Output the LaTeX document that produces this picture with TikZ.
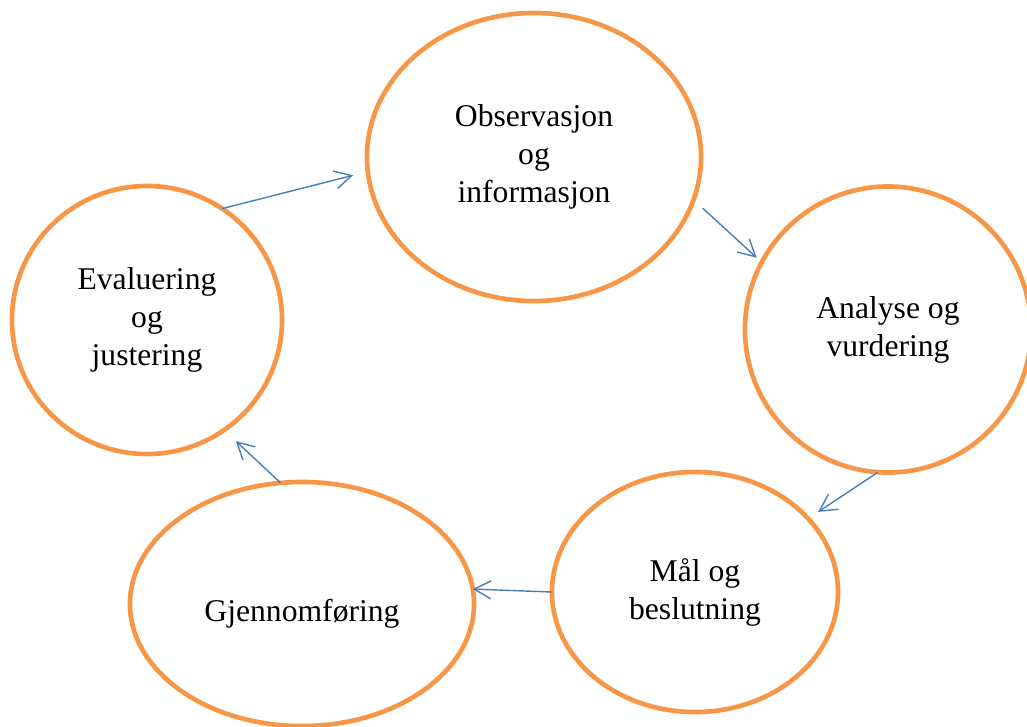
\documentclass[tikz,border=0pt]{standalone}
\usepackage{fontspec}
\setmainfont{Liberation Serif}
\usetikzlibrary{shapes.geometric,arrows.meta}
\definecolor{ringorange}{HTML}{F79646}
\definecolor{arrowblue}{HTML}{4A7EBB}

\begin{document}
\begin{tikzpicture}[x=0.025cm, y=-0.025cm,
		ring/.style={ellipse, draw=ringorange, line width=3.3pt, inner sep=0pt, outer sep=0pt, align=center, font=\fontsize{22.5}{27}\selectfont, execute at begin node={\rule{0pt}{1.05cm}}},
		flow/.style={draw=arrowblue, line width=1pt, -{Straight Barb[length=0.42cm, width=0.45cm]}}]
			%%%%% START %%%%%
			
			\useasboundingbox (0, 0) rectangle (1027, 726);
			
			\node[ring, minimum width=8.35cm, minimum height=7.2cm] (obs) at (534, 157) {Observasjon\\og\\informasjon};
			\node[ring, minimum width=7.15cm, minimum height=7.15cm] (ana) at (888, 329.5) {Analyse og\\vurdering};
			\node[ring, minimum width=7.15cm, minimum height=6.0cm] (mal) at (695, 592) {Mål og\\beslutning};
			\node[ring, minimum width=8.6cm, minimum height=6.1cm] (gjen) at (302, 604) {Gjennomføring};
			\node[ring, minimum width=6.75cm, minimum height=6.7cm] (eval) at (147, 320) {Evaluering\\og\\justering};
			
			\draw[flow, shorten >=0.38cm] (eval.56) -- (obs.185);
			\draw[flow, shorten <=0.31cm, shorten >=0.17cm] (obs.-15.8) -- (ana.152);
			\draw[flow, shorten >=0.3cm] (ana.266.4) -- (mal.33);
			\draw[flow] (mal.180) -- (gjen.5);
			\draw[flow, shorten >=0.4cm] (gjen.100.2) -- (eval.-55);
			
			%%%%% END %%%%%
		\end{tikzpicture}
\end{document}
